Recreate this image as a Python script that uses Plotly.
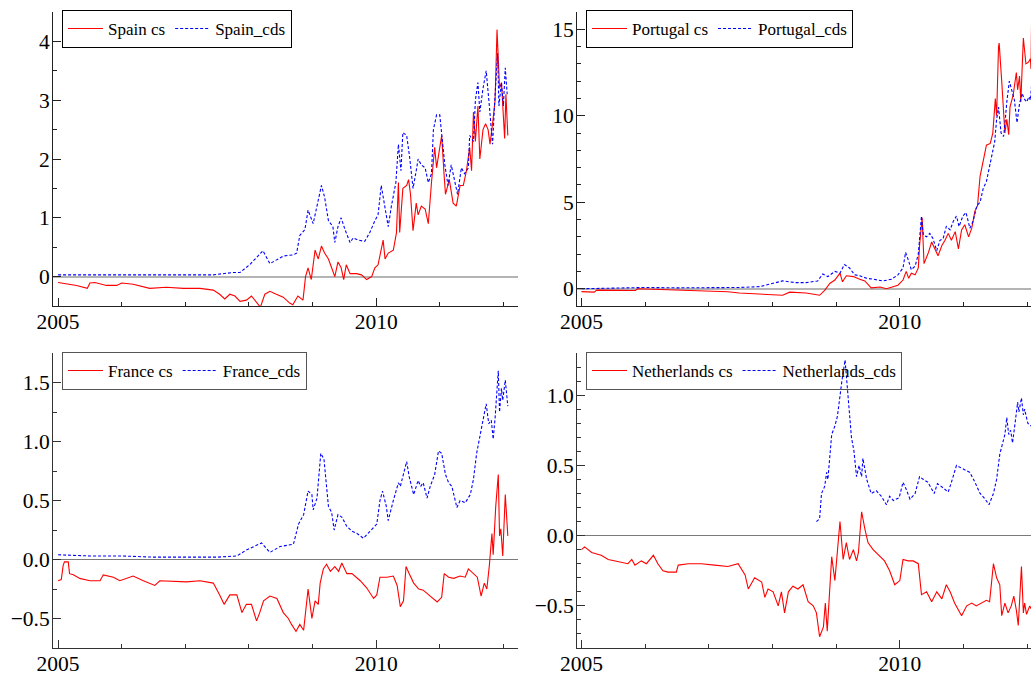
import plotly.graph_objects as go

# ---------------- data (decimal year, value) ----------------
spain_cs = [
    (2005.00, -0.10), (2005.13, -0.12), (2005.29, -0.15), (2005.46, -0.20), (2005.50, -0.11),
    (2005.58, -0.10), (2005.76, -0.15), (2005.92, -0.15), (2006.00, -0.11), (2006.18, -0.13),
    (2006.44, -0.20), (2006.70, -0.18), (2006.97, -0.20), (2007.23, -0.20), (2007.44, -0.23),
    (2007.54, -0.30), (2007.62, -0.38), (2007.70, -0.30), (2007.78, -0.33), (2007.86, -0.42),
    (2007.96, -0.40), (2008.04, -0.33), (2008.12, -0.45), (2008.18, -0.52), (2008.25, -0.30),
    (2008.33, -0.25), (2008.43, -0.30), (2008.54, -0.35), (2008.64, -0.45), (2008.69, -0.48),
    (2008.77, -0.33), (2008.85, -0.40), (2008.89, 0.00), (2008.93, 0.15), (2008.98, -0.05),
    (2009.04, 0.45), (2009.09, 0.30), (2009.14, 0.52), (2009.19, 0.40), (2009.25, 0.30),
    (2009.30, 0.15), (2009.35, 0.00), (2009.40, 0.25), (2009.45, 0.15), (2009.49, -0.05),
    (2009.53, 0.20), (2009.59, 0.05), (2009.69, 0.05), (2009.77, 0.03), (2009.85, -0.05),
    (2009.93, 0.00), (2009.98, 0.15), (2010.03, 0.20), (2010.08, 0.45), (2010.11, 0.62),
    (2010.14, 0.30), (2010.19, 0.40), (2010.27, 0.45), (2010.32, 0.75), (2010.35, 1.60),
    (2010.37, 0.75), (2010.42, 1.50), (2010.48, 1.55), (2010.51, 1.65), (2010.54, 1.40),
    (2010.58, 0.78), (2010.63, 1.25), (2010.66, 1.05), (2010.71, 1.20), (2010.77, 1.15),
    (2010.82, 0.90), (2010.87, 1.60), (2010.92, 2.20), (2010.95, 1.85), (2011.00, 2.20),
    (2011.03, 2.40), (2011.07, 1.70), (2011.09, 1.40), (2011.15, 1.65), (2011.21, 1.25),
    (2011.26, 1.20), (2011.32, 1.55), (2011.37, 1.55), (2011.42, 1.80), (2011.47, 2.20),
    (2011.50, 1.80), (2011.53, 2.80), (2011.56, 2.30), (2011.60, 2.90), (2011.63, 2.00),
    (2011.68, 2.50), (2011.72, 2.60), (2011.76, 2.50), (2011.79, 2.25), (2011.83, 2.60),
    (2011.87, 3.00), (2011.90, 4.20), (2011.94, 3.20), (2011.97, 3.30), (2012.00, 2.60),
    (2012.02, 2.35), (2012.04, 3.10), (2012.07, 2.40),
]
spain_cds = [
    (2005.00, 0.03), (2005.50, 0.03), (2006.00, 0.03), (2006.50, 0.03), (2007.00, 0.03),
    (2007.44, 0.03), (2007.75, 0.07), (2007.86, 0.07), (2008.01, 0.20), (2008.22, 0.44),
    (2008.33, 0.22), (2008.54, 0.35), (2008.70, 0.37), (2008.75, 0.40), (2008.80, 0.70),
    (2008.88, 0.80), (2008.93, 1.13), (2009.01, 0.90), (2009.09, 1.30), (2009.14, 1.55),
    (2009.19, 1.35), (2009.25, 0.95), (2009.32, 0.85), (2009.35, 0.58), (2009.40, 0.85),
    (2009.45, 1.00), (2009.51, 0.80), (2009.59, 0.58), (2009.64, 0.66), (2009.72, 0.62),
    (2009.82, 0.60), (2009.90, 0.75), (2009.98, 0.95), (2010.03, 1.05), (2010.08, 1.55),
    (2010.14, 1.20), (2010.19, 0.85), (2010.24, 1.20), (2010.31, 1.60), (2010.35, 2.25),
    (2010.39, 1.80), (2010.42, 2.45), (2010.48, 2.40), (2010.53, 2.00), (2010.58, 1.50),
    (2010.63, 1.80), (2010.66, 2.00), (2010.71, 1.90), (2010.77, 1.85), (2010.82, 1.60),
    (2010.87, 1.75), (2010.90, 2.50), (2010.95, 2.75), (2011.00, 2.75), (2011.05, 2.20),
    (2011.08, 1.90), (2011.13, 1.55), (2011.18, 1.90), (2011.24, 1.60), (2011.28, 1.40),
    (2011.34, 1.85), (2011.39, 1.75), (2011.45, 1.85), (2011.47, 2.40), (2011.53, 2.30),
    (2011.56, 3.00), (2011.60, 3.30), (2011.63, 2.80), (2011.68, 3.20), (2011.73, 3.50),
    (2011.78, 2.90), (2011.83, 2.25), (2011.87, 3.10), (2011.91, 3.80), (2011.93, 2.90),
    (2011.97, 3.30), (2012.00, 2.90), (2012.03, 3.55), (2012.06, 3.10),
]
portugal_cs = [
    (2005.00, -0.17), (2005.20, -0.20), (2005.24, -0.08), (2005.60, -0.08), (2005.85, -0.10),
    (2005.88, 0.00), (2006.30, -0.05), (2006.80, -0.12), (2007.30, -0.18), (2007.48, -0.25),
    (2007.80, -0.30), (2008.00, -0.35), (2008.11, -0.35), (2008.16, -0.38), (2008.27, -0.20),
    (2008.53, -0.25), (2008.74, -0.38), (2008.82, -0.10), (2008.90, 0.30), (2008.98, 0.50),
    (2009.06, 0.90), (2009.10, 0.40), (2009.16, 0.75), (2009.27, 0.70), (2009.37, 0.55),
    (2009.45, 0.45), (2009.55, 0.05), (2009.69, 0.10), (2009.79, 0.00), (2009.90, 0.10),
    (2009.97, 0.20), (2010.05, 0.50), (2010.10, 1.00), (2010.14, 0.60), (2010.18, 0.90),
    (2010.24, 0.80), (2010.29, 1.20), (2010.31, 2.50), (2010.35, 4.10), (2010.38, 1.45),
    (2010.45, 2.10), (2010.50, 2.70), (2010.55, 2.30), (2010.60, 1.90), (2010.66, 2.50),
    (2010.71, 2.80), (2010.76, 3.20), (2010.81, 2.80), (2010.87, 3.30), (2010.92, 2.30),
    (2010.97, 3.40), (2011.02, 3.70), (2011.08, 3.00), (2011.13, 3.50), (2011.18, 4.50),
    (2011.22, 4.80), (2011.26, 6.50), (2011.31, 7.50), (2011.36, 8.30), (2011.42, 8.40),
    (2011.46, 9.00), (2011.50, 11.00), (2011.52, 10.00), (2011.55, 14.00), (2011.56, 14.20),
    (2011.60, 12.00), (2011.65, 9.00), (2011.68, 9.80), (2011.71, 8.90), (2011.73, 10.50),
    (2011.78, 11.20), (2011.83, 12.50), (2011.85, 11.50), (2011.88, 12.30), (2011.90, 10.80),
    (2011.94, 14.50), (2011.98, 13.00), (2012.02, 13.10), (2012.05, 13.30), (2012.06, 12.70),
    (2012.07, 15.80),
]
portugal_cds = [
    (2005.00, 0.00), (2005.50, 0.05), (2006.00, 0.07), (2006.50, 0.05), (2007.00, 0.05),
    (2007.48, 0.07), (2007.80, 0.12), (2007.95, 0.25), (2008.16, 0.45), (2008.37, 0.35),
    (2008.53, 0.35), (2008.71, 0.45), (2008.79, 0.85), (2008.87, 0.70), (2008.98, 1.00),
    (2009.06, 0.90), (2009.13, 1.40), (2009.21, 1.20), (2009.29, 0.80), (2009.37, 0.75),
    (2009.48, 0.60), (2009.58, 0.55), (2009.74, 0.45), (2009.87, 0.55), (2009.97, 0.80),
    (2010.05, 1.20), (2010.09, 2.10), (2010.13, 1.70), (2010.18, 1.10), (2010.24, 1.30),
    (2010.29, 2.00), (2010.34, 4.20), (2010.37, 3.10), (2010.42, 3.00), (2010.47, 3.20),
    (2010.52, 2.90), (2010.58, 2.20), (2010.63, 2.80), (2010.68, 2.90), (2010.73, 3.60),
    (2010.79, 3.40), (2010.84, 3.90), (2010.89, 4.20), (2010.93, 3.60), (2010.99, 4.20),
    (2011.04, 4.40), (2011.10, 3.50), (2011.15, 3.90), (2011.21, 4.80), (2011.26, 5.00),
    (2011.31, 5.80), (2011.36, 6.20), (2011.42, 7.20), (2011.46, 7.80), (2011.49, 8.50),
    (2011.52, 9.80), (2011.55, 10.50), (2011.59, 9.00), (2011.63, 8.80), (2011.65, 9.50),
    (2011.68, 10.80), (2011.72, 12.00), (2011.76, 11.50), (2011.80, 10.90), (2011.84, 9.60),
    (2011.88, 10.70), (2011.92, 11.30), (2011.95, 11.00), (2011.99, 10.80), (2012.03, 11.10),
    (2012.05, 10.90), (2012.07, 11.80),
]
france_cs = [
    (2005.00, -0.18), (2005.05, -0.17), (2005.08, -0.05), (2005.10, -0.02), (2005.16, -0.02),
    (2005.18, -0.12), (2005.24, -0.13), (2005.34, -0.16), (2005.50, -0.18), (2005.66, -0.18),
    (2005.71, -0.13), (2005.87, -0.15), (2005.97, -0.18), (2006.18, -0.14), (2006.34, -0.18),
    (2006.52, -0.22), (2006.60, -0.18), (2007.02, -0.19), (2007.23, -0.18), (2007.44, -0.20),
    (2007.54, -0.30), (2007.61, -0.38), (2007.70, -0.30), (2007.81, -0.30), (2007.89, -0.45),
    (2007.96, -0.38), (2008.04, -0.38), (2008.12, -0.52), (2008.17, -0.45), (2008.23, -0.35),
    (2008.33, -0.31), (2008.44, -0.33), (2008.54, -0.45), (2008.62, -0.50), (2008.67, -0.55),
    (2008.74, -0.61), (2008.80, -0.55), (2008.86, -0.60), (2008.93, -0.25), (2008.99, -0.50),
    (2009.04, -0.35), (2009.09, -0.38), (2009.12, -0.20), (2009.17, -0.08), (2009.22, -0.04),
    (2009.28, -0.10), (2009.35, -0.06), (2009.41, -0.10), (2009.46, -0.03), (2009.54, -0.12),
    (2009.62, -0.12), (2009.75, -0.18), (2009.85, -0.24), (2009.96, -0.33), (2010.01, -0.30),
    (2010.06, -0.15), (2010.17, -0.15), (2010.27, -0.14), (2010.33, -0.22), (2010.38, -0.40),
    (2010.43, -0.35), (2010.47, -0.06), (2010.52, -0.12), (2010.59, -0.20), (2010.67, -0.25),
    (2010.74, -0.26), (2010.85, -0.31), (2010.96, -0.36), (2011.03, -0.32), (2011.07, -0.12),
    (2011.14, -0.15), (2011.22, -0.16), (2011.32, -0.14), (2011.40, -0.15), (2011.45, -0.08),
    (2011.53, -0.12), (2011.59, -0.15), (2011.65, -0.31), (2011.70, -0.20), (2011.74, -0.25),
    (2011.78, -0.05), (2011.82, 0.22), (2011.84, 0.04), (2011.88, 0.45), (2011.92, 0.72),
    (2011.94, 0.20), (2011.96, 0.26), (2011.99, 0.03), (2012.03, 0.55), (2012.07, 0.20),
]
france_cds = [
    (2005.00, 0.04), (2005.50, 0.03), (2006.00, 0.03), (2006.50, 0.02), (2007.00, 0.02),
    (2007.50, 0.02), (2007.81, 0.03), (2007.96, 0.08), (2008.20, 0.14), (2008.33, 0.06),
    (2008.49, 0.11), (2008.70, 0.13), (2008.78, 0.30), (2008.86, 0.38), (2008.93, 0.58),
    (2008.99, 0.55), (2009.01, 0.42), (2009.07, 0.52), (2009.13, 0.90), (2009.18, 0.85),
    (2009.25, 0.45), (2009.30, 0.40), (2009.34, 0.25), (2009.40, 0.38), (2009.46, 0.36),
    (2009.54, 0.28), (2009.62, 0.24), (2009.70, 0.22), (2009.80, 0.18), (2009.91, 0.24),
    (2010.01, 0.30), (2010.06, 0.50), (2010.10, 0.58), (2010.16, 0.45), (2010.19, 0.33),
    (2010.27, 0.50), (2010.35, 0.65), (2010.38, 0.62), (2010.43, 0.72), (2010.48, 0.83),
    (2010.52, 0.70), (2010.59, 0.55), (2010.66, 0.67), (2010.70, 0.62), (2010.74, 0.65),
    (2010.80, 0.52), (2010.85, 0.62), (2010.92, 0.72), (2010.98, 0.92), (2011.03, 0.90),
    (2011.09, 0.72), (2011.14, 0.65), (2011.19, 0.62), (2011.27, 0.44), (2011.32, 0.50),
    (2011.40, 0.48), (2011.48, 0.55), (2011.53, 0.68), (2011.58, 0.90), (2011.63, 1.05),
    (2011.69, 1.20), (2011.73, 1.32), (2011.77, 1.15), (2011.81, 1.18), (2011.84, 1.02),
    (2011.87, 1.20), (2011.92, 1.60), (2011.94, 1.25), (2011.97, 1.45), (2011.99, 1.35),
    (2012.03, 1.52), (2012.07, 1.30),
]
netherlands_cs = [
    (2005.00, -0.10), (2005.05, -0.08), (2005.16, -0.12), (2005.31, -0.14), (2005.42, -0.17),
    (2005.52, -0.18), (2005.63, -0.19), (2005.73, -0.20), (2005.79, -0.17), (2005.84, -0.21),
    (2005.94, -0.18), (2006.02, -0.20), (2006.13, -0.14), (2006.20, -0.20), (2006.28, -0.25),
    (2006.36, -0.26), (2006.49, -0.26), (2006.52, -0.21), (2006.68, -0.20), (2006.88, -0.20),
    (2007.09, -0.21), (2007.30, -0.22), (2007.46, -0.20), (2007.57, -0.28), (2007.62, -0.38),
    (2007.72, -0.30), (2007.83, -0.33), (2007.88, -0.44), (2007.93, -0.38), (2008.01, -0.40),
    (2008.09, -0.50), (2008.14, -0.40), (2008.19, -0.55), (2008.25, -0.40), (2008.32, -0.36),
    (2008.40, -0.38), (2008.48, -0.35), (2008.56, -0.47), (2008.64, -0.50), (2008.69, -0.55),
    (2008.74, -0.72), (2008.80, -0.65), (2008.83, -0.48), (2008.86, -0.68), (2008.93, -0.15),
    (2008.98, -0.32), (2009.06, 0.10), (2009.11, -0.17), (2009.16, -0.05), (2009.21, -0.17),
    (2009.27, -0.10), (2009.32, -0.18), (2009.35, -0.12), (2009.40, 0.17), (2009.45, 0.05),
    (2009.50, -0.05), (2009.58, -0.10), (2009.69, -0.15), (2009.76, -0.18), (2009.84, -0.25),
    (2009.92, -0.35), (2010.00, -0.32), (2010.05, -0.17), (2010.13, -0.18), (2010.21, -0.18),
    (2010.29, -0.20), (2010.34, -0.42), (2010.42, -0.40), (2010.50, -0.47), (2010.58, -0.40),
    (2010.66, -0.45), (2010.73, -0.35), (2010.79, -0.40), (2010.86, -0.48), (2010.97, -0.57),
    (2011.05, -0.50), (2011.13, -0.48), (2011.20, -0.50), (2011.28, -0.48), (2011.36, -0.46),
    (2011.41, -0.47), (2011.47, -0.20), (2011.52, -0.30), (2011.57, -0.35), (2011.60, -0.57),
    (2011.65, -0.48), (2011.70, -0.55), (2011.75, -0.50), (2011.79, -0.43), (2011.83, -0.53),
    (2011.86, -0.64), (2011.88, -0.48), (2011.91, -0.22), (2011.94, -0.55), (2011.96, -0.48),
    (2011.99, -0.56), (2012.04, -0.50), (2012.06, -0.52),
]
netherlands_cds = [
    (2008.69, 0.10), (2008.74, 0.12), (2008.77, 0.30), (2008.82, 0.35), (2008.85, 0.45),
    (2008.87, 0.40), (2008.93, 0.72), (2008.98, 0.78), (2009.02, 0.85), (2009.06, 1.00),
    (2009.09, 1.10), (2009.14, 1.25), (2009.19, 0.95), (2009.24, 0.70), (2009.28, 0.60),
    (2009.32, 0.42), (2009.36, 0.50), (2009.40, 0.42), (2009.42, 0.55), (2009.48, 0.40),
    (2009.55, 0.30), (2009.63, 0.32), (2009.71, 0.28), (2009.79, 0.22), (2009.84, 0.28),
    (2009.90, 0.25), (2009.99, 0.27), (2010.05, 0.38), (2010.10, 0.33), (2010.16, 0.26),
    (2010.24, 0.30), (2010.31, 0.42), (2010.37, 0.40), (2010.44, 0.38), (2010.54, 0.30),
    (2010.59, 0.37), (2010.68, 0.34), (2010.76, 0.31), (2010.81, 0.38), (2010.89, 0.50),
    (2010.97, 0.48), (2011.10, 0.45), (2011.18, 0.38), (2011.26, 0.30), (2011.34, 0.26),
    (2011.40, 0.22), (2011.47, 0.30), (2011.52, 0.40), (2011.57, 0.58), (2011.61, 0.66),
    (2011.65, 0.72), (2011.68, 0.84), (2011.71, 0.72), (2011.74, 0.75), (2011.77, 0.66),
    (2011.81, 0.80), (2011.85, 0.95), (2011.87, 0.88), (2011.91, 0.98), (2011.94, 0.86),
    (2011.96, 0.90), (2012.01, 0.80), (2012.06, 0.78),
]

countries = ["Spain", "Portugal", "France", "Netherlands"]
cs_series = [spain_cs, portugal_cs, france_cs, netherlands_cs]
cds_series = [spain_cds, portugal_cds, france_cds, netherlands_cds]

x_ranges = [[2004.92, 2012.23], [2004.93, 2012.06], [2004.92, 2012.23], [2004.93, 2012.06]]
y_ranges = [[-0.5, 4.5], [-1, 16], [-0.75, 1.75], [-0.8, 1.3]]
y_dtick = [1, 5, 0.5, 0.5]
y_minor = [0.5, 1, 0.25, 0.1]
y_fmt = ["d", "d", ".1f", ".1f"]

W, H = 1031, 675
x_dom = [[53 / W, 518 / W], [577 / W, 1.0], [53 / W, 518 / W], [577 / W, 1.0]]
y_dom = [[1 - 306 / H, 1 - 12 / H], [1 - 306 / H, 1 - 12 / H],
         [1 - 648 / H, 1 - 353 / H], [1 - 648 / H, 1 - 353 / H]]
legend_pos = [(62 / W, 1 - 10 / H), (586 / W, 1 - 10 / H),
              (62 / W, 1 - 352 / H), (586 / W, 1 - 352 / H)]
axis_col = ["#222222", "#222222", "#333333", "#333333"]
zero_col = ["#b4b4b4", "#b4b4b4", "#7a7a7a", "#7a7a7a"]
zero_w = [2, 2, 1, 1]
legend_border = ["#000000", "#000000", "#555555", "#555555"]

FONT = "Liberation Serif"

fig = go.Figure()
layout = dict(
    width=W, height=H, paper_bgcolor="white", plot_bgcolor="white",
    margin=dict(l=0, r=0, t=0, b=0, pad=0), showlegend=True,
    font=dict(family=FONT, color="black"),
)

for i in range(4):
    sfx = "" if i == 0 else str(i + 1)
    xa, ya = "x" + sfx, "y" + sfx
    lg = "legend" + sfx
    cx, cy = zip(*cs_series[i])
    dx, dy = zip(*cds_series[i])
    fig.add_trace(go.Scatter(x=cx, y=cy, mode="lines", name=countries[i] + " cs",
                             line=dict(color="#ff0000", width=1.1), xaxis=xa, yaxis=ya,
                             legend=lg))
    fig.add_trace(go.Scatter(x=dx, y=dy, mode="lines", name=countries[i] + "_cds",
                             line=dict(color="#0000ff", width=1.1, dash="3px,2px"),
                             xaxis=xa, yaxis=ya, legend=lg))
    layout["xaxis" + sfx] = dict(
        domain=x_dom[i], range=x_ranges[i], anchor=ya, showline=True,
        linecolor=axis_col[i], linewidth=1, showgrid=False, zeroline=False,
        ticks="inside", ticklen=8, tickwidth=1, tickcolor=axis_col[i],
        tickmode="linear", tick0=2005, dtick=5, tickformat="d",
        tickfont=dict(family=FONT, size=21.5, color="black"), ticklabelstandoff=-4,
        minor=dict(ticks="inside", ticklen=4, tickmode="linear", tick0=2005, dtick=1,
                   tickcolor=axis_col[i], showgrid=False),
        automargin=False, fixedrange=True,
    )
    layout["yaxis" + sfx] = dict(
        domain=y_dom[i], range=y_ranges[i], anchor=xa, showline=True,
        linecolor=axis_col[i], linewidth=1, showgrid=False,
        zeroline=True, zerolinecolor=zero_col[i], zerolinewidth=zero_w[i],
        ticks="inside", ticklen=8, tickwidth=1, tickcolor=axis_col[i],
        tickmode="linear", tick0=0, dtick=y_dtick[i], tickformat=y_fmt[i],
        tickfont=dict(family=FONT, size=21.5, color="black"), ticklabelstandoff=-2,
        minor=dict(ticks="inside", ticklen=4, tickmode="linear", tick0=0, dtick=y_minor[i],
                   tickcolor=axis_col[i], showgrid=False),
        automargin=False, fixedrange=True,
    )
    layout[lg] = dict(
        x=legend_pos[i][0], y=legend_pos[i][1], xanchor="left", yanchor="top",
        orientation="h", bgcolor="rgba(255,255,255,0)", bordercolor=legend_border[i],
        borderwidth=1, font=dict(family=FONT, size=17, color="black"), itemwidth=35,
    )

fig.update_layout(**layout)
fig.write_html("out.html")
